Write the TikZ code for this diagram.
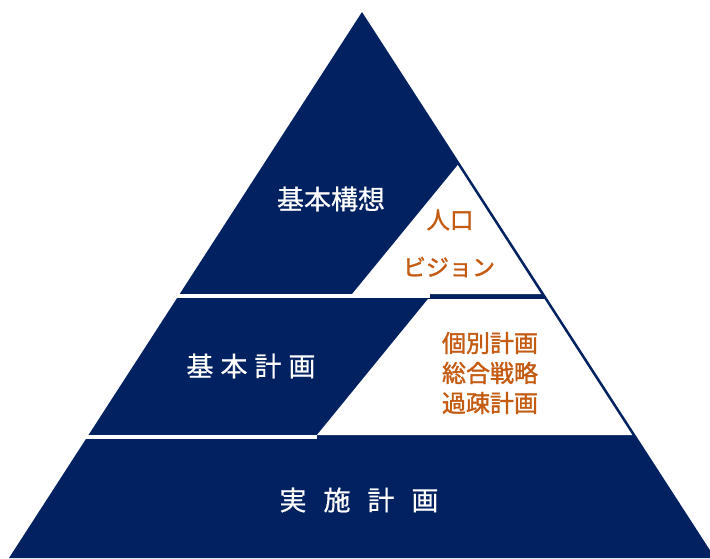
\documentclass[tikz,border=0pt]{standalone}
\usepackage{fontspec}
\setmainfont{Noto Sans CJK JP}
\newfontfamily\cjkw{Noto Sans CJK JP}[FakeBold=0.6]
\newfontfamily\cjko{Noto Sans CJK JP}[FakeBold=1.4]
\definecolor{navy}{RGB}{2,33,96}
\definecolor{rust}{RGB}{197,90,17}
\tikzset{
  darktext/.style={text=white, inner sep=0pt, font=\cjkw\fontsize{27}{32}\selectfont},
  orangetext/.style={text=rust, inner sep=0pt, align=center},
  cutout/.style={fill=white, draw=none},
}
\begin{document}
\begin{tikzpicture}[x=1pt,y=-1pt]
\useasboundingbox (0,0) rectangle (710,558);
\clip (0,0) rectangle (710,558);
% pyramid
\fill[navy] (362,12) -- (9,558) -- (715,558) -- cycle;
% separator lines
\fill[white] (170,294) rectangle (430,297.5);
\fill[white] (80,435) rectangle (317,438.5);
% inner white shapes
\fill[cutout] (457.8,165) -- (352,294.2) -- (541.2,294.2) -- cycle;
\fill[cutout] (428,299) -- (544.4,299) -- (632.3,435) -- (317,435) -- cycle;
% labels
\node[darktext] (kihonkoso) at (331,199) {基本構想};
\node[orangetext, font=\cjko\fontsize{23.5}{26}\selectfont] (jinko) at (450,220) {人口};
\node[orangetext, font=\cjko\fontsize{23}{26}\selectfont] (vision) at (449,267) {ビジョン};
\node[darktext] (kihonkeikaku) at (251,366) {基\hspace{7pt}本\hspace{7pt}計\hspace{7pt}画};
\node[orangetext, font=\cjko\fontsize{24}{30}\selectfont] (kobetsu) at (490,373) {個別計画\\総合戦略\\過疎計画};
\node[darktext] (jisshi) at (359,500) {実\hspace{17pt}施\hspace{17pt}計\hspace{17pt}画};
\end{tikzpicture}
\end{document}
